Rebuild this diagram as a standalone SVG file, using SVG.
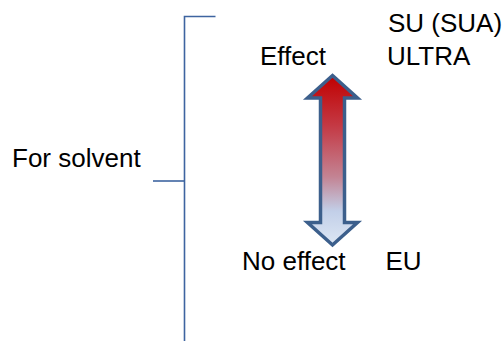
<svg xmlns="http://www.w3.org/2000/svg" width="502" height="343" viewBox="0 0 502 343">
<style>
text{font-family:"Liberation Sans",Arial,sans-serif;font-size:26px;fill:#000}
.br{fill:none;stroke:#3e64a0;stroke-width:1.6}
</style>
<defs>
<linearGradient id="g" x1="0" y1="0" x2="0" y2="1">
<stop offset="0" stop-color="#c00000"/>
<stop offset="0.3" stop-color="#c43a45"/>
<stop offset="0.6" stop-color="#c38494"/>
<stop offset="0.8" stop-color="#c2cfe8"/>
<stop offset="1" stop-color="#dde7f4"/>
</linearGradient>
</defs>
<g id="connectors">
<path class="br" d="M215.5,16.5 H184.5 V341"/>
<path class="br" d="M153,181 H184.5"/>
</g>
<g id="arrow">
<polygon points="332.5,75.5 357.5,98 344.5,98 344.5,222.5 357.5,222.5 332.5,245 307.5,222.5 320.5,222.5 320.5,98 307.5,98" fill="url(#g)" stroke="#3c5f8c" stroke-width="3.5" stroke-linejoin="miter"/>
</g>
<g id="node-solvent"><text x="12" y="166.5">For solvent</text></g>
<g id="node-effect"><text x="260" y="65">Effect</text></g>
<g id="node-noeffect"><text x="242" y="270">No effect</text></g>
<g id="node-su"><text x="388" y="32">SU (SUA)</text></g>
<g id="node-ultra"><text x="387" y="65">ULTRA</text></g>
<g id="node-eu"><text x="385.5" y="270">EU</text></g>
</svg>
